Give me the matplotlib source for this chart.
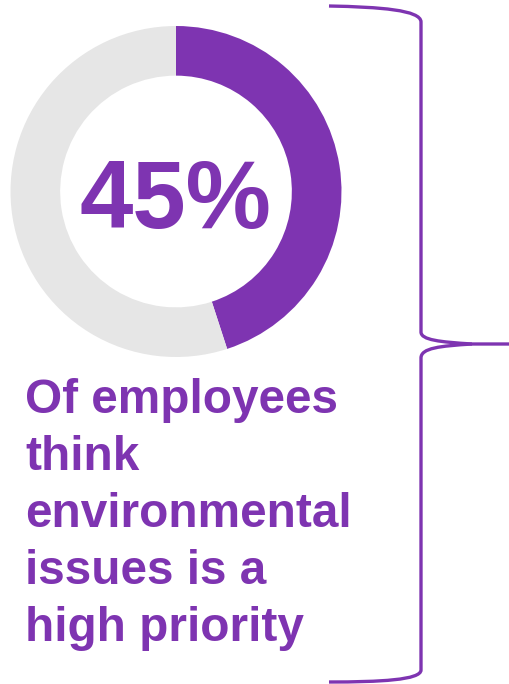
import matplotlib
matplotlib.use("Agg")
import matplotlib.pyplot as plt
from matplotlib.path import Path
from matplotlib.patches import PathPatch

# Data
share_values = [45, 55]
share_labels = ["High priority", "Other"]
headline = "45%"
caption_lines = ["Of employees", "think", "environmental", "issues is a", "high priority"]

PURPLE = "#7E34B1"
GREY = "#E6E6E6"
W, H = 510, 684
DPI = 100

fig = plt.figure(figsize=(W / DPI, H / DPI), dpi=DPI)
fig.patch.set_facecolor("white")

# Donut
cx, cy, r = 176, 191.5, 165.5
ax_pie = fig.add_axes([(cx - r) / W, 1 - (cy + r) / H, 2 * r / W, 2 * r / H])
ax_pie.pie(share_values, colors=[PURPLE, GREY], startangle=90, counterclock=False,
           wedgeprops=dict(width=0.30, linewidth=0))
ax_pie.set_xlim(-1, 1)
ax_pie.set_ylim(-1, 1)
ax_pie.set_aspect("equal")
ax_pie.axis("off")

# Overlay in pixel coordinates for text and brace
ov = fig.add_axes([0, 0, 1, 1], facecolor="none")
ov.set_xlim(0, W)
ov.set_ylim(H, 0)
ov.axis("off")

ov.text(175, 228, headline, ha="center", va="baseline", color=PURPLE,
        fontsize=69, fontweight="bold", family="Liberation Sans")

baselines = [413, 470, 527, 584, 641]
for line, yb in zip(caption_lines, baselines):
    ov.text(25, yb, line, ha="left", va="baseline", color=PURPLE,
            fontsize=34.4, fontweight="bold", family="Liberation Sans")

# Curly brace
upper = [(329, 6), (380, 7), (421, 10), (421, 22),
         (421, 332),
         (421, 340), (440, 342), (472, 344),
         (510, 344)]
upper_codes = [Path.MOVETO, Path.CURVE4, Path.CURVE4, Path.CURVE4,
               Path.LINETO,
               Path.CURVE4, Path.CURVE4, Path.CURVE4,
               Path.LINETO]
lower = [(472, 344), (440, 346), (421, 348), (421, 358),
         (421, 670),
         (421, 680), (380, 682), (329, 682)]
lower_codes = [Path.MOVETO, Path.CURVE4, Path.CURVE4, Path.CURVE4,
               Path.LINETO,
               Path.CURVE4, Path.CURVE4, Path.CURVE4]
for verts, codes in [(upper, upper_codes), (lower, lower_codes)]:
    ov.add_patch(PathPatch(Path(verts, codes), facecolor="none", edgecolor=PURPLE,
                           linewidth=2.4, capstyle="butt", joinstyle="round"))

fig.savefig("out.png", dpi=DPI, facecolor="white")
